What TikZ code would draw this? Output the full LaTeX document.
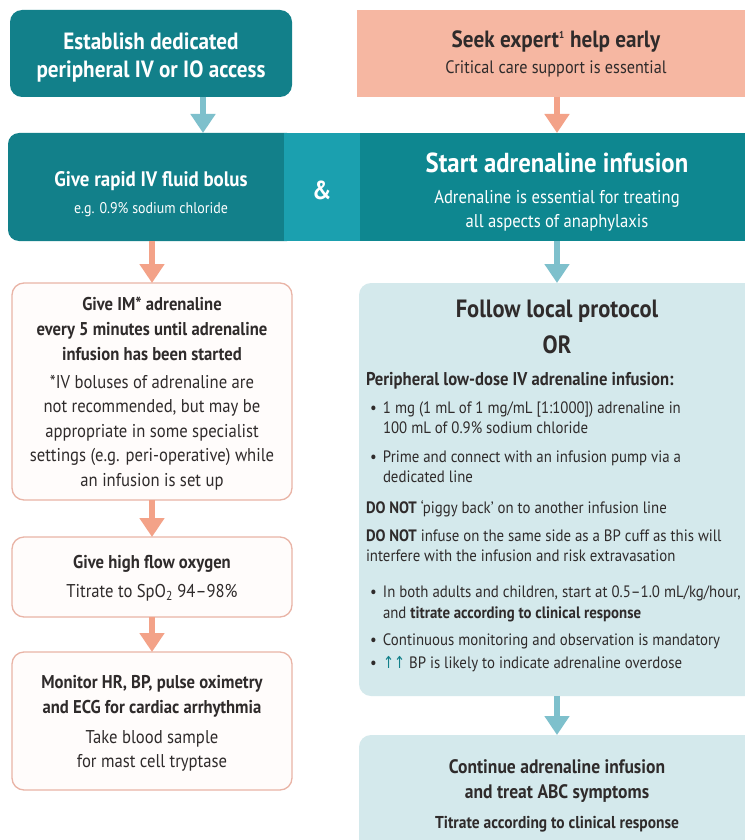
\documentclass[tikz,border=0pt]{standalone}
\usepackage{fontspec}
\setmainfont{PT Sans}[FakeStretch=0.9]
\newfontfamily\symf{DejaVu Sans}[FakeStretch=0.8]
\usetikzlibrary{arrows.meta,calc}
\definecolor{tealA}{HTML}{12808A}
\definecolor{tealB}{HTML}{1BA0AF}
\definecolor{tealC}{HTML}{0E8790}
\definecolor{salm}{HTML}{F6B7A2}
\definecolor{salmArr}{HTML}{F3A288}
\definecolor{blueArr}{HTML}{7EC0CC}
\definecolor{lblue}{HTML}{D4E9EC}
\definecolor{pinkBd}{HTML}{E9B4A6}
\definecolor{pinkFill}{HTML}{FFFCFB}
\definecolor{txt}{HTML}{2F2B2B}
\newcommand{\fsz}[2]{\fontsize{#1}{#2}\selectfont}
\begin{document}
\begin{tikzpicture}[x=1pt,y=-1pt,
  every node/.style={inner sep=0pt, outer sep=0pt},
  panel/.style={minimum width=#1, anchor=north west},
  pinkbox/.style={draw=pinkBd, line width=1.3pt, fill=pinkFill, rounded corners=12pt, minimum width=280pt, anchor=north west},
  bluebox/.style={fill=lblue, rounded corners=12pt, minimum width=400pt, anchor=north west},
  ln/.style={anchor=base, text=txt},
  lnw/.style={anchor=base west, text=txt},
  wln/.style={anchor=base, text=white},
  flow/.style={draw=#1, line width=6.5pt, -{Triangle[width=24pt,length=19pt]}},
  bigb/.style={font=\fsz{23.5}{28}\bfseries},
  boxb/.style={font=\fsz{18.5}{20}\bfseries},
  boxr/.style={font=\fsz{18.5}{20}},
  smr/.style={font=\fsz{16.5}{18}},
  smb/.style={font=\fsz{16.5}{18}\bfseries},
]
\useasboundingbox (0,0) rectangle (744,840);
\fill[white] (0,0) rectangle (744,840);

% ---------- top row
\node[fill=tealA, rounded corners=12pt, panel=282pt, minimum height=87pt] (estab) at (10,10) {};
\node[fill=salm, panel=400pt, minimum height=87pt] (seek) at (357,10) {};

% ---------- band
\node[fill=tealA, rounded corners=11pt, panel=290pt, minimum height=108pt] (bolus) at (8,133) {};
\node[fill=tealB, panel=76pt, minimum height=108pt] (amp) at (284,133) {};
\node[fill=tealC, panel=400pt, minimum height=108pt] (infusion) at (360,133) {};

% ---------- left column
\node[pinkbox, minimum height=217pt] (imbox) at (12,283) {};
\node[pinkbox, minimum height=80pt] (oxbox) at (12,537) {};
\node[pinkbox, minimum height=138pt] (monbox) at (12,652) {};

% ---------- right column
\node[bluebox, minimum height=413pt] (proto) at (359,283) {};
\node[bluebox, minimum height=120pt] (cont) at (359,735) {};

% ---------- connectors
\coordinate (lx) at (152,0);
\coordinate (rx) at (557,0);
\coordinate (tx) at (203,0);
\draw[flow=blueArr] (estab.south -| tx) -- (bolus.north -| tx);
\draw[flow=salmArr] (seek.south -| rx) -- (infusion.north -| rx);
\draw[flow=salmArr] (bolus.south -| lx) -- (imbox.north -| lx);
\draw[flow=blueArr] (infusion.south -| rx) -- (proto.north -| rx);
\draw[flow=salmArr] (imbox.south -| lx) -- (oxbox.north -| lx);
\draw[flow=salmArr] (oxbox.south -| lx) -- (monbox.north -| lx);
\draw[flow=blueArr] (proto.south -| rx) -- (cont.north -| rx);

% ---------- texts: top
\node[wln, bigb] (e1) at (151,50) {Establish dedicated};
\node[wln, bigb] (e2) at (151,78) {peripheral IV or IO access};
\node[ln, font=\fsz{23.5}{26}\bfseries, text=txt] (s1) at (556,48) {Seek expert\textsuperscript{\fsz{10}{10}1} help early};
\node[ln, font=\fsz{18}{20}] (s2) at (556,74) {Critical care support is essential};

% ---------- texts: band
\node[wln, font=\fsz{21}{24}\bfseries] (b1) at (151,186) {Give rapid IV fluid bolus};
\node[wln, font=\fsz{15.5}{18}] (b2) at (151,213) {e.g. 0.9\% sodium chloride};
\node[wln, font=\fsz{26}{28}\bfseries] (amp1) at (322,199) {\&};
\node[wln, font=\fsz{27.5}{30}\bfseries] (i1) at (557,172) {Start adrenaline infusion};
\node[wln, font=\fsz{18.5}{20}] (i2) at (557,203) {Adrenaline is essential for treating};
\node[wln, font=\fsz{18.5}{20}] (i3) at (557,227) {all aspects of anaphylaxis};

% ---------- texts: left column
\node[ln, boxb] (m1) at (152,310) {Give IM* adrenaline};
\node[ln, boxb] (m2) at (152,335) {every 5 minutes until adrenaline};
\node[ln, boxb] (m3) at (152,360) {infusion has been started};
\node[ln, boxr] (m4) at (152,388) {*IV boluses of adrenaline are};
\node[ln, boxr] (m5) at (152,412.5) {not recommended, but may be};
\node[ln, boxr] (m6) at (152,437) {appropriate in some specialist};
\node[ln, boxr] (m7) at (152,461.5) {settings (e.g. peri-operative) while};
\node[ln, boxr] (m8) at (152,486) {an infusion is set up};

\node[ln, boxb] (o1) at (152,568) {Give high flow oxygen};
\node[ln, boxr] (o2) at (152,597) {Titrate to SpO\textsubscript{2} 94--98\%};

\node[ln, boxb] (h1) at (152,688) {Monitor HR, BP, pulse oximetry};
\node[ln, boxb] (h2) at (152,713) {and ECG for cardiac arrhythmia};
\node[ln, boxr] (h3) at (152,743) {Take blood sample};
\node[ln, boxr] (h4) at (152,767) {for mast cell tryptase};

% ---------- texts: protocol box
\node[ln, font=\fsz{25}{30}\bfseries] (p1) at (557,317) {Follow local protocol};
\node[ln, font=\fsz{25}{30}\bfseries] (p2) at (557,353) {OR};
\node[lnw, font=\fsz{18.5}{20}\bfseries] (p3) at (366,385) {Peripheral low-dose IV adrenaline infusion:};
\node[lnw, smr] (p4) at (370,413) {\makebox[13pt][l]{\textbullet}1 mg (1 mL of 1 mg/mL [1:1000]) adrenaline in};
\node[lnw, smr] (p5) at (383,433) {100 mL of 0.9\% sodium chloride};
\node[lnw, smr] (p6) at (370,462) {\makebox[13pt][l]{\textbullet}Prime and connect with an infusion pump via a};
\node[lnw, smr] (p7) at (383,482) {dedicated line};
\node[lnw, smr] (p8) at (366,513) {\textbf{DO NOT} `piggy back' on to another infusion line};
\node[lnw, smr] (p9) at (366,541) {\textbf{DO NOT} infuse on the same side as a BP cuff as this will};
\node[lnw, smr] (p10) at (366,561) {interfere with the infusion and risk extravasation};
\node[lnw, smr] (p11) at (370,597) {\makebox[13pt][l]{\textbullet}In both adults and children, start at 0.5--1.0 mL/kg/hour,};
\node[lnw, smr] (p12) at (383,618) {and \textbf{titrate according to clinical response}};
\node[lnw, smr] (p13) at (370,645) {\makebox[13pt][l]{\textbullet}Continuous monitoring and observation is mandatory};
\node[lnw, smr] (p14) at (370,668) {\makebox[13pt][l]{\textbullet}{\symf\color{tealA}↑↑} BP is likely to indicate adrenaline overdose};

% ---------- texts: continue box
\node[ln, font=\fsz{19.5}{20}\bfseries] (c1) at (557,773) {Continue adrenaline infusion};
\node[ln, font=\fsz{19.5}{20}\bfseries] (c2) at (557,798) {and treat ABC symptoms};
\node[ln, font=\fsz{17.2}{20}\bfseries] (c3) at (557,828) {Titrate according to clinical response};
\end{tikzpicture}
\end{document}
